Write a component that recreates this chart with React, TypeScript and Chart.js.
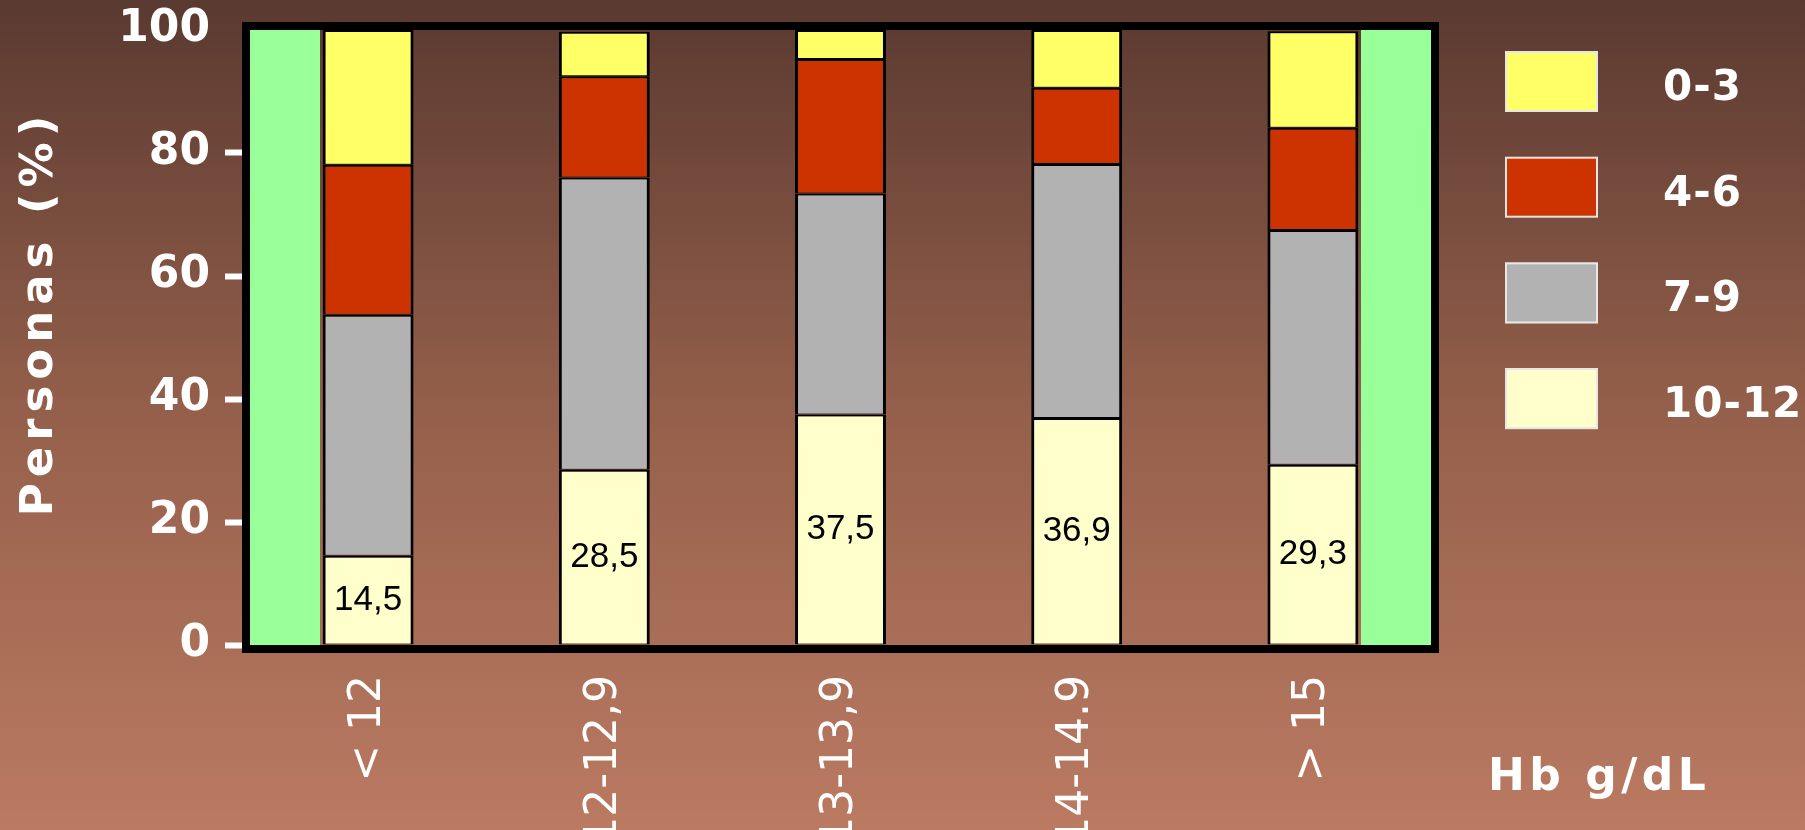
import React, { useEffect, useRef } from 'react';
import { Chart, registerables } from 'chart.js';

Chart.register(...registerables);

// ---------- data ----------
const categories = ['< 12', '12-12,9', '13-13,9', '14-14.9', '> 15'];
const seriesLabels = ['10-12', '7-9', '4-6', '0-3'];
const values10to12 = [14.5, 28.5, 37.5, 36.9, 29.3];
const values7to9 = [39.2, 47.5, 35.9, 41.3, 38.2];
const values4to6 = [24.4, 16.5, 21.9, 12.4, 16.6];
const values0to3 = [21.9, 7.2, 4.7, 9.4, 15.7];
const yTickStep = 20;
const yMin = 0;
const yMax = 100;
const yTitle = 'Personas (%)';
const xTitle = 'Hb g/dL';

// ---------- style ----------
const seriesColors = ['#FFFFCC', '#B2B2B2', '#CC3300', '#FFFF66'];
const wallColor = '#99FF99';
const W = 1805;
const H = 830;
const FONT = '"DejaVu Sans", "Open Sans", sans-serif';

const backgroundPlugin = {
  id: 'bgGradient',
  beforeDraw(chart: any) {
    const { ctx, width, height } = chart;
    const g = ctx.createLinearGradient(0, 0, 0, height);
    g.addColorStop(0, '#5a3930');
    g.addColorStop(0.5, '#95604b');
    g.addColorStop(1, '#bb7a62');
    ctx.save();
    ctx.fillStyle = g;
    ctx.fillRect(0, 0, width, height);
    ctx.restore();
  },
};

const wallsPlugin = {
  id: 'walls',
  beforeDatasetsDraw(chart: any) {
    const { ctx, chartArea } = chart;
    const { left, right, top, bottom } = chartArea;
    const w = 70;
    ctx.save();
    ctx.fillStyle = wallColor;
    ctx.fillRect(left, top, w, bottom - top);
    ctx.fillRect(right - w, top, w, bottom - top);
    ctx.restore();
  },
};

const framePlugin = {
  id: 'frame',
  afterDatasetsDraw(chart: any) {
    const { ctx, chartArea } = chart;
    const { left, right, top, bottom } = chartArea;
    const lw = 8;
    ctx.save();
    ctx.strokeStyle = '#000';
    ctx.lineWidth = lw;
    ctx.strokeRect(left - lw / 2, top - lw / 2, right - left + lw, bottom - top + lw);
    ctx.restore();
  },
};

const valueLabelsPlugin = {
  id: 'valueLabels',
  afterDatasetsDraw(chart: any) {
    const { ctx } = chart;
    const meta = chart.getDatasetMeta(0);
    const data = chart.data.datasets[0].data as number[];
    ctx.save();
    ctx.fillStyle = '#000';
    ctx.font = '35px "Liberation Sans", Arial, sans-serif';
    ctx.textAlign = 'center';
    ctx.textBaseline = 'middle';
    meta.data.forEach((el: any, i: number) => {
      const { x, y, base } = el.getProps(['x', 'y', 'base'], true);
      ctx.fillText(String(data[i]).replace('.', ','), x, (y + base) / 2);
    });
    ctx.restore();
  },
};

const textsPlugin = {
  id: 'textsAndLegend',
  afterDraw(chart: any) {
    const { ctx } = chart;
    ctx.save();
    ctx.fillStyle = '#fff';
    // y axis title
    ctx.save();
    ctx.font = `bold 45px ${FONT}`;
    (ctx as any).letterSpacing = '6px';
    ctx.translate(52, 313);
    ctx.rotate(-Math.PI / 2);
    ctx.textAlign = 'center';
    ctx.textBaseline = 'alphabetic';
    ctx.fillText(yTitle, 0, 0);
    ctx.restore();

    // x axis title
    ctx.save();
    ctx.font = `bold 44px ${FONT}`;
    (ctx as any).letterSpacing = '4.5px';
    ctx.textAlign = 'left';
    ctx.textBaseline = 'alphabetic';
    ctx.fillText(xTitle, 1488, 790);
    ctx.restore();

    // legend (top to bottom: reversed stacking order)
    const ds = chart.data.datasets;
    const order = ds.map((_: any, i: number) => i).reverse();
    order.forEach((di: number, k: number) => {
      const top = 51 + k * 105.7;
      ctx.fillStyle = ds[di].backgroundColor;
      ctx.fillRect(1505, top, 93, 61);
      ctx.strokeStyle = '#e6e6e6';
      ctx.lineWidth = 2;
      ctx.strokeRect(1506, top + 1, 91, 59);
      ctx.fillStyle = '#fff';
      ctx.font = `bold 42px ${FONT}`;
      (ctx as any).letterSpacing = '1px';
      ctx.textAlign = 'left';
      ctx.textBaseline = 'alphabetic';
      ctx.fillText(ds[di].label, 1663, top + 49);
    });
    ctx.restore();
  },
};

export default function App() {
  const canvasRef = useRef<HTMLCanvasElement | null>(null);

  useEffect(() => {
    document.body.style.margin = '0';
    const canvas = canvasRef.current;
    if (!canvas) return;
    const seriesData = [values10to12, values7to9, values4to6, values0to3];
    const chart = new Chart(canvas, {
      type: 'bar',
      data: {
        labels: categories,
        datasets: seriesData.map((d, i) => ({
          label: seriesLabels[i],
          data: d,
          backgroundColor: seriesColors[i],
          borderColor: '#000',
          borderWidth: { top: 2, bottom: 1, left: 3, right: 3 },
          borderSkipped: false,
          categoryPercentage: 0.385,
          barPercentage: 1,
        })),
      },
      options: {
        responsive: false,
        animation: false,
        events: [],
        layout: { padding: { top: 30, right: 374, left: 0, bottom: 0 } },
        plugins: {
          legend: { display: false },
          tooltip: { enabled: false },
          title: { display: false },
        },
        scales: {
          x: {
            stacked: true,
            grid: { display: false, drawTicks: false },
            border: { display: false },
            ticks: {
              color: '#fff',
              font: { family: FONT, size: 44, weight: 'normal', lineHeight: 0.6 },
              maxRotation: 90,
              minRotation: 90,
              padding: 30,
              autoSkip: false,
            },
            afterFit: (s: any) => {
              s.height = 185;
            },
          },
          y: {
            stacked: true,
            min: yMin,
            max: yMax,
            ticks: {
              stepSize: yTickStep,
              color: '#fff',
              font: { family: FONT, size: 44, weight: 'bold', lineHeight: 0.6 },
              padding: 15,
            },
            grid: {
              drawOnChartArea: false,
              drawTicks: true,
              tickLength: 25,
              tickWidth: 6,
              tickColor: (c: any) => (c.tick && c.tick.value === yMax ? 'rgba(0,0,0,0)' : '#fff'),
            },
            border: { display: false },
            afterFit: (s: any) => {
              s.width = 250;
            },
          },
        },
      },
      plugins: [backgroundPlugin, wallsPlugin, framePlugin, valueLabelsPlugin, textsPlugin],
    } as any);
    return () => chart.destroy();
  }, []);

  return (
    <div style={{ width: W, height: H }}>
      <canvas ref={canvasRef} width={W} height={H} style={{ display: 'block' }} />
    </div>
  );
}
